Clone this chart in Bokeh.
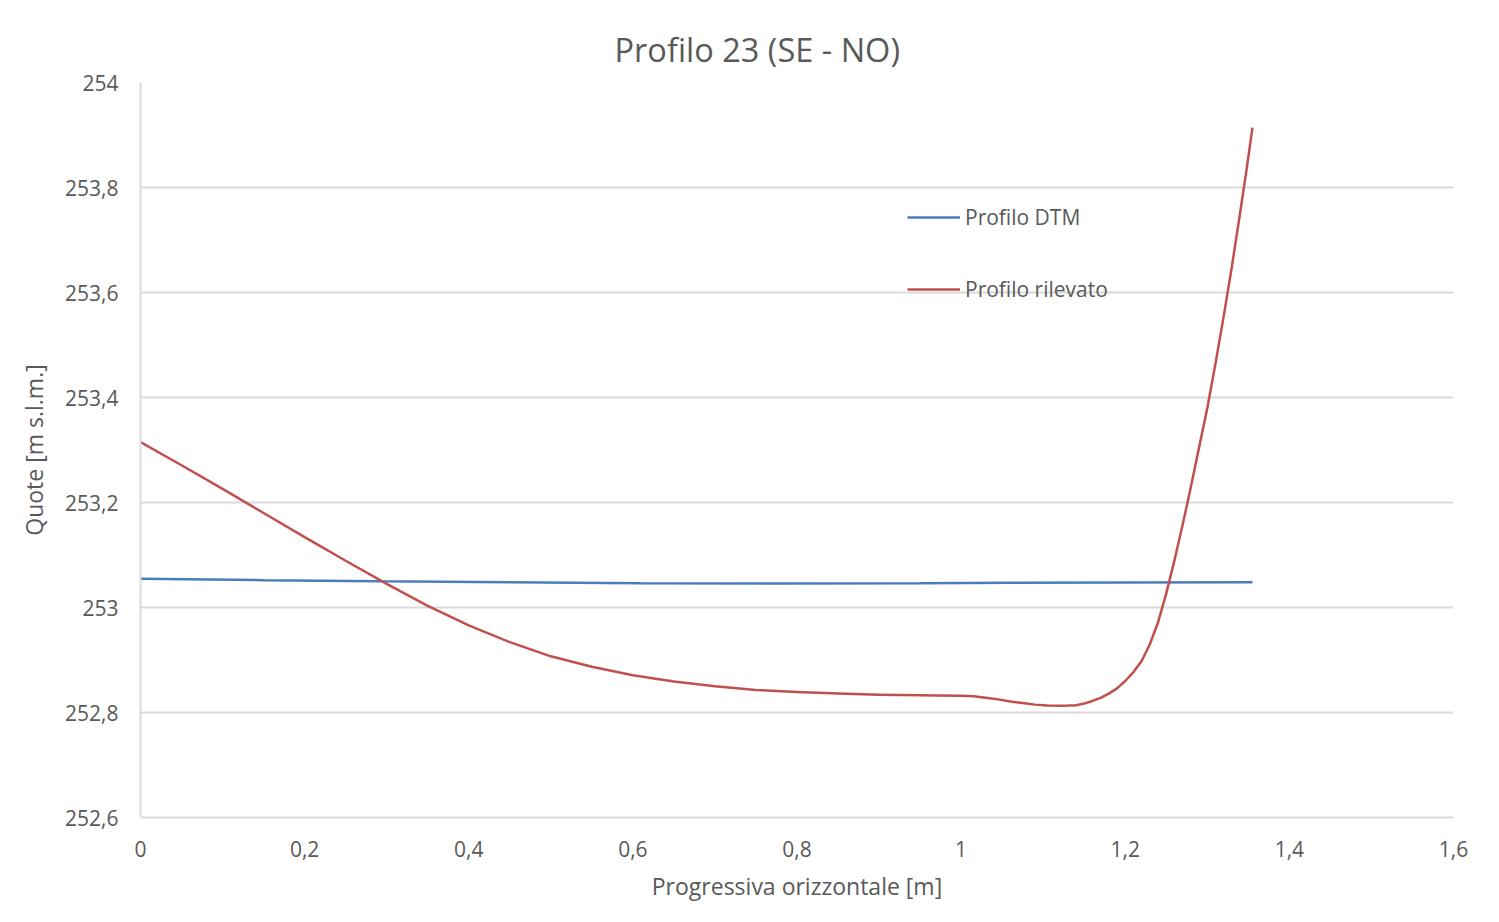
from bokeh.plotting import figure
from bokeh.models import Range1d, FixedTicker, CustomJSTickFormatter, Legend, LegendItem
from bokeh.embed import file_html
from bokeh.resources import INLINE

# Data
dtm_x = [0.0, 0.15, 0.29, 0.45, 0.61, 0.79, 0.95, 1.06, 1.2, 1.355]
dtm_y = [253.0547, 253.052, 253.050, 253.048, 253.0463, 253.0457, 253.0462, 253.047, 253.0477, 253.0482]

ril_x = [0.0, 0.05, 0.10, 0.15, 0.20, 0.25, 0.30, 0.35, 0.40, 0.45, 0.50, 0.55, 0.60,
         0.65, 0.70, 0.75, 0.80, 0.85, 0.90, 0.95, 0.97, 1.00, 1.015, 1.03, 1.045, 1.06,
         1.075, 1.09, 1.105, 1.12, 1.13, 1.14, 1.15, 1.16, 1.17, 1.18, 1.19, 1.20, 1.21,
         1.22, 1.23, 1.24, 1.25, 1.26, 1.27, 1.28, 1.29, 1.30, 1.31, 1.32, 1.33, 1.34,
         1.348, 1.355]
ril_y = [253.315, 253.271, 253.226, 253.180, 253.134, 253.089, 253.045, 253.003, 252.966,
         252.934, 252.907, 252.887, 252.871, 252.859, 252.850, 252.843, 252.839, 252.836,
         252.834, 252.833, 252.8325, 252.832, 252.831, 252.828, 252.825, 252.821, 252.818,
         252.815, 252.8135, 252.813, 252.8132, 252.814, 252.817, 252.822, 252.828, 252.836,
         252.846, 252.860, 252.877, 252.898, 252.930, 252.972, 253.027, 253.090, 253.158,
         253.230, 253.305, 253.380, 253.465, 253.555, 253.650, 253.752, 253.836, 253.914]

x_ticks = [0, 0.2, 0.4, 0.6, 0.8, 1.0, 1.2, 1.4, 1.6]
y_ticks = [252.6, 252.8, 253.0, 253.2, 253.4, 253.6, 253.8, 254.0]

title_text = "Profilo 23 (SE - NO)"
x_label = "Progressiva orizzontale [m]"
y_label = "Quote [m s.l.m.]"
series_names = ["Profilo DTM", "Profilo rilevato"]

FONT = "Open Sans"
TXT = "#595959"
GRID = "#d9d9d9"

p = figure(width=1490, height=913, output_backend="svg", toolbar_location=None,
           x_range=Range1d(0, 1.6), y_range=Range1d(252.6, 254.0),
           min_border_left=140, min_border_right=37, min_border_top=82, min_border_bottom=96)

p.title.text = title_text
p.title.align = "left"
p.title.offset = 474
p.title.text_font = FONT
p.title.text_font_size = "32.5px"
p.title.text_font_style = "normal"
p.title.text_color = TXT
p.title.standoff = 22

p.outline_line_color = None
p.background_fill_color = "white"
p.border_fill_color = "white"

fmt = CustomJSTickFormatter(code="""
var v = Math.round(tick*10)/10;
return v.toString().replace('.', ',');
""")

for ax in (p.xaxis[0], p.yaxis[0]):
    ax.formatter = fmt
    ax.major_tick_line_color = None
    ax.minor_tick_line_color = None
    ax.axis_line_color = GRID
    ax.axis_line_width = 2
    ax.major_label_text_font = FONT
    ax.major_label_text_font_size = "21px"
    ax.major_label_text_color = TXT
    ax.axis_label_text_font = FONT
    ax.axis_label_text_font_size = "23px"
    ax.axis_label_text_font_style = "normal"
    ax.axis_label_text_color = TXT

p.xaxis[0].ticker = FixedTicker(ticks=x_ticks)
p.yaxis[0].ticker = FixedTicker(ticks=y_ticks)
p.xaxis[0].axis_label = x_label
p.yaxis[0].axis_label = y_label
p.xaxis[0].major_label_standoff = 17
p.yaxis[0].major_label_standoff = 16
p.xaxis[0].axis_label_standoff = 10
p.yaxis[0].axis_label_standoff = 12

p.xgrid.grid_line_color = None
p.ygrid.ticker = FixedTicker(ticks=y_ticks)
p.ygrid.grid_line_color = GRID
p.ygrid.grid_line_width = 2

r1 = p.line(dtm_x, dtm_y, line_color="#4a7ebb", line_width=2.5)
r2 = p.line(ril_x, ril_y, line_color="#c0504d", line_width=2.5, line_join="round")

legend = Legend(items=[LegendItem(label=series_names[0], renderers=[r1]),
                       LegendItem(label=series_names[1], renderers=[r2])],
                location=(767, 514), orientation="vertical",
                glyph_width=53, glyph_height=20, label_height=20, spacing=44,
                padding=0, margin=0, label_standoff=5,
                border_line_color=None, background_fill_alpha=0)
legend.label_text_font = FONT
legend.label_text_font_size = "21px"
legend.label_text_color = TXT
p.add_layout(legend)

open("out.html", "w").write(file_html(p, INLINE))
